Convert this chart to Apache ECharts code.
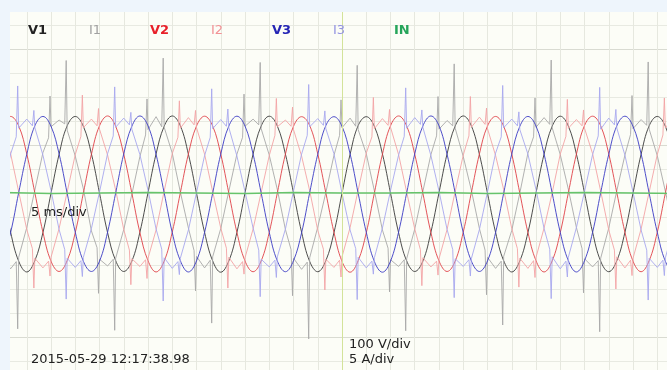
<!DOCTYPE html>
<html><head><meta charset="utf-8">
<script src="https://cdn.jsdelivr.net/npm/echarts@6/dist/echarts.min.js"></script>
<style>html,body{margin:0;padding:0;background:#eef5fc;overflow:hidden;width:667px;height:370px;position:relative}
#c{position:absolute;left:-20px;top:-20px;width:707px;height:410px}</style>
</head><body><div id="c"></div>
<script>
// Time axis in samples; 1 sample = 1/12 cycle = 1.667 ms, 3 samples = 5 ms = one division.
const FIRST_SAMPLE = -42;
const seriesNames = ['V1', 'I1', 'V2', 'I2', 'V3', 'I3', 'IN'];
const scaleLabels = { time: '5 ms/div', volt: '100 V/div', amp: '5 A/div', stamp: '2015-05-29 12:17:38.98' };

// Voltages (V), one value per sample starting at FIRST_SAMPLE
const V1 = [
 1, -163, -284, -329, -282, -165, -1, 161, 280, 319, 278, 163,
 0, -165, -282, -327, -284, -163, 1, 163, 278, 321, 280, 161,
 -1, -164, -283, -330, -283, -164, 0, 162, 279, 320, 279, 162,
 1, -163, -285, -328, -282, -166, -1, 161, 281, 318, 278, 163,
 0, -165, -283, -327, -284, -163, 1, 163, 279, 321, 280, 161,
 -1, -164, -282, -329, -283, -165, 0, 162, 278, 320, 279, 162,
 1, -163, -284, -328, -282, -164, -1, 161, 280, 319, 278, 163,
 0];
const V2 = [
 278, 319, 280, 163, 1, -163, -284, -327, -282, -165, -1, 161,
 280, 321, 278, 161, 0, -165, -282, -329, -284, -163, 1, 163,
 279, 320, 279, 162, -1, -164, -283, -328, -283, -164, 0, 162,
 278, 318, 281, 163, 1, -163, -285, -330, -282, -166, -1, 161,
 280, 321, 279, 161, 0, -165, -283, -327, -284, -163, 1, 163,
 279, 319, 278, 162, -1, -164, -282, -329, -283, -165, 0, 162,
 281, 320, 280, 163, 1, -163, -284, -328, -282, -164, -1, 161,
 279];
const V3 = [
 -282, -165, 1, 161, 280, 319, 278, 163, -1, -163, -284, -327,
 -284, -163, 0, 163, 278, 321, 280, 161, 1, -165, -282, -329,
 -283, -164, -1, 162, 279, 320, 279, 162, 0, -164, -283, -328,
 -282, -166, 1, 161, 281, 318, 278, 163, -1, -163, -285, -330,
 -284, -163, 0, 163, 279, 321, 280, 161, 1, -165, -283, -327,
 -283, -165, -1, 162, 278, 319, 279, 162, 0, -164, -282, -329,
 -282, -164, 1, 161, 280, 320, 278, 163, -1, -163, -284, -328,
 -283];

// Currents (A) as [sample, amps]
const I1 = [
 [-42,-13.2],
 [-41,-15.8],[-40.3,-14.3],[-40.12,-28.3],[-40,-13.4],[-39,-7.2],[-38,0.6],[-37,8.4],[-36.3,11.5],[-36.12,20.2],[-36,13.8],[-35,15.2],[-34.3,14.4],[-34.12,27.6],[-34,13.1],[-33,7.7],[-32,0.9],[-31,-7.9],[-30.3,-11.4],[-30.12,-20.9],[-30,-13.8],
 [-29,-15.2],[-28.3,-13.8],[-28.12,-28.6],[-28,-13.6],[-27,-7.6],[-26,-0.3],[-25,7.6],[-24.3,12.1],[-24.12,19.6],[-24,13.2],[-23,15.9],[-22.3,13.8],[-22.12,28.1],[-22,13.7],[-21,8.3],[-20,0.2],[-19,-7.3],[-18.3,-12.0],[-18.12,-20.4],[-18,-13.2],
 [-17,-15.6],[-16.3,-14.0],[-16.12,-27.1],[-16,-13.3],[-15,-7.4],[-14,0.4],[-13,8.1],[-12.3,11.6],[-12.12,20.6],[-12,13.9],[-11,15.4],[-10.3,14.2],[-10.12,27.2],[-10,13.4],[-9,7.9],[-8,0.7],[-7,-7.6],[-6.3,-11.8],[-6.12,-21.4],[-6,-13.6],
 [-5,-15.9],[-4.3,-14.4],[-4.12,-30.4],[-4,-13.5],[-3,-7.1],[-2,0.1],[-1,7.8],[-0.3,12.0],[-0.12,19.4],[0,13.6],[1,15.6],[1.7,13.9],[1.88,26.6],[2,13.2],[3,8.2],[4,0.5],[5,-7.7],[5.7,-11.5],[5.88,-20.6],[6,-13.9],
 [7,-15.3],[7.7,-13.9],[7.88,-28.7],[8,-13.7],[9,-7.5],[10,0.3],[11,8.0],[11.7,11.9],[11.88,20.1],[12,13.3],[13,15.1],[13.7,14.0],[13.88,26.9],[14,13.5],[15,7.6],[16,0.6],[17,-7.4],[17.7,-11.9],[17.88,-21.2],[18,-13.4],
 [19,-15.7],[19.7,-14.2],[19.88,-27.5],[20,-13.2],[21,-7.8],[22,0.0],[23,8.3],[23.7,11.7],[23.88,19.8],[24,13.7],[25,15.7],[25.7,14.3],[25.88,27.7],[26,13.6],[27,8.0],[28,0.8],[29,-7.2],[29.7,-11.6],[29.88,-20.8],[30,-13.7],
 [31,-15.4],[31.7,-14.1],[31.88,-28.9],[32,-13.6],[33,-7.3],[34,0.5],[35,7.9],[35.7,12.2],[35.88,20.3],[36,13.4],[37,15.3],[37.7,14.1],[37.88,27.3],[38,13.3],[39,7.8],[40,0.4],[41,-7.5],[41.7,-11.8],[41.88,-21.0],[42,-13.5]
];
const I2 = [
 [-42,13.4],[-41,8.2],[-40,0.3],[-39,-7.6],[-38.3,-11.6],[-38.12,-19.8],[-38,-13.6],
 [-37,-15.6],[-36.3,-14.2],[-36.12,-17.3],[-36,-13.4],[-35,-7.4],[-34,0.2],[-33,8.0],[-32.3,11.8],[-32.12,20.4],[-32,13.6],[-31,15.4],[-30.3,14.0],[-30.12,17.6],[-30,13.3],[-29,7.9],[-28,0.6],[-27,-7.6],[-26.3,-11.9],[-26.12,-19.1],[-26,-13.7],
 [-25,-15.3],[-24.3,-13.9],[-24.12,-17.8],[-24,-13.6],[-23,-7.7],[-22,0.4],[-21,8.2],[-20.3,11.6],[-20.12,19.2],[-20,13.5],[-19,15.7],[-18.3,14.2],[-18.12,17.2],[-18,13.6],[-17,8.1],[-16,0.3],[-15,-7.3],[-14.3,-11.5],[-14.12,-19.8],[-14,-13.4],
 [-13,-15.8],[-12.3,-14.3],[-12.12,-16.9],[-12,-13.5],[-11,-7.5],[-10,0.1],[-9,7.8],[-8.3,12.0],[-8.12,19.7],[-8,13.8],[-7,15.2],[-6.3,13.9],[-6.12,17.9],[-6,13.2],[-5,7.7],[-4,0.5],[-3,-7.8],[-2.3,-11.7],[-2.12,-20.2],[-2,-13.8],
 [-1,-15.5],[-0.3,-14.0],[-0.12,-17.5],[0,-13.3],[1,-7.2],[2,0.6],[3,8.3],[3.7,11.7],[3.88,19.9],[4,13.4],[5,15.5],[5.7,14.1],[5.88,17.4],[6,13.7],[7,8.0],[8,0.2],[9,-7.5],[9.7,-11.8],[9.88,-19.3],[10,-13.5],
 [11,-15.4],[11.7,-14.2],[11.88,-17.1],[12,-13.7],[13,-7.6],[14,0.3],[15,7.9],[15.7,11.9],[15.88,20.1],[16,13.7],[17,15.8],[17.7,14.3],[17.88,17.7],[18,13.4],[19,7.8],[20,0.7],[21,-7.4],[21.7,-11.6],[21.88,-19.6],[22,-13.6],
 [23,-15.7],[23.7,-14.1],[23.88,-17.6],[24,-13.4],[25,-7.3],[26,0.0],[27,8.1],[27.7,11.8],[27.88,19.5],[28,13.5],[29,15.3],[29.7,14.0],[29.88,17.3],[30,13.5],[31,8.2],[32,0.4],[33,-7.7],[33.7,-11.9],[33.88,-20.0],[34,-13.3],
 [35,-15.6],[35.7,-14.0],[35.88,-17.2],[36,-13.6],[37,-7.5],[38,0.2],[39,8.0],[39.7,12.1],[39.88,19.8],[40,13.6],[41,15.6],[41.7,14.2],[41.88,17.5],[42,13.4]
];
const I3 = [
 [-42,0.3],[-41,8.1],[-40.3,11.7],[-40.12,22.3],[-40,13.5],[-39,15.4],[-38.3,14.0],[-38.12,17.2],[-38,13.6],[-37,7.9],[-36,0.5],[-35,-7.6],[-34.3,-11.8],[-34.12,-22.1],[-34,-13.6],
 [-33,-15.5],[-32.3,-14.1],[-32.12,-17.4],[-32,-13.4],[-31,-7.4],[-30,0.2],[-29,8.2],[-28.3,11.9],[-28.12,22.1],[-28,13.7],[-27,15.6],[-26.3,14.2],[-26.12,16.8],[-26,13.3],[-25,8.0],[-24,0.6],[-23,-7.5],[-22.3,-11.7],[-22.12,-22.5],[-22,-13.5],
 [-21,-15.7],[-20.3,-14.3],[-20.12,-17.0],[-20,-13.6],[-19,-7.7],[-18,0.1],[-17,7.8],[-16.3,11.6],[-16.12,21.7],[-16,13.4],[-15,15.3],[-14.3,13.9],[-14.12,17.5],[-14,13.6],[-13,7.7],[-12,0.3],[-11,-7.3],[-10.3,-11.9],[-10.12,-21.6],[-10,-13.8],
 [-9,-15.4],[-8.3,-14.0],[-8.12,-17.6],[-8,-13.3],[-7,-7.5],[-6,0.4],[-5,8.1],[-4.3,12.0],[-4.12,22.6],[-4,13.8],[-3,15.5],[-2.3,14.1],[-2.12,17.1],[-2,13.4],[-1,8.2],[0,0.0],[1,-7.7],[1.7,-11.6],[1.88,-22.2],[2,-13.4],
 [3,-15.6],[3.7,-14.2],[3.88,-16.9],[4,-13.5],[5,-7.3],[6,0.5],[7,7.9],[7.7,11.8],[7.88,21.9],[8,13.5],[9,15.7],[9.7,14.3],[9.88,17.3],[10,13.7],[11,7.8],[12,0.4],[13,-7.6],[13.7,-11.8],[13.88,-21.8],[14,-13.7],
 [15,-15.3],[15.7,-13.9],[15.88,-17.3],[16,-13.7],[17,-7.6],[18,0.2],[19,8.3],[19.7,11.7],[19.88,22.4],[20,13.6],[21,15.4],[21.7,14.0],[21.88,16.9],[22,13.2],[23,8.1],[24,0.7],[25,-7.4],[25.7,-11.7],[25.88,-22.0],[26,-13.3],
 [27,-15.8],[27.7,-14.2],[27.88,-17.5],[28,-13.4],[29,-7.2],[30,0.3],[31,8.0],[31.7,11.9],[31.88,22.0],[32,13.3],[33,15.6],[33.7,14.2],[33.88,17.4],[34,13.5],[35,7.9],[36,0.2],[37,-7.7],[37.7,-11.9],[37.88,-22.3],[38,-13.6],
 [39,-15.5],[39.7,-14.0],[39.88,-17.2],[40,-13.5],[41,-7.5],[42,0.4]
];
const IN = [[-42,0.1],[-36,-0.1],[-30,0.0],[-24,0.1],[-18,0.0],[-12,-0.1],[-6,0.1],[0,0.0],[6,0.0],[12,0.1],[18,-0.1],[24,0.0],[30,0.1],[36,0.0],[42,-0.1]];

const toPairs = arr => arr.map((v, k) => [FIRST_SAMPLE + k, v]);

const colors = { V1: '#3a3a3a', I1: '#a8a8a8', V2: '#e04148', I2: '#f3a3a5', V3: '#3b3bc4', I3: '#a7a7ee', IN: '#66c46b' };
const labelColors = { V1: '#222222', I1: '#a0a0a0', V2: '#e8202a', I2: '#f29296', V3: '#2525b5', I3: '#9494e2', IN: '#25a55a' };

// chart canvas is offset by OFF px so the plot grid can run past the visible edges
const OFF = 20;
const chart = echarts.init(document.getElementById('c'), null, { renderer: 'canvas' });

function line(name, data, yIdx, extra) {
  return Object.assign({
    name, type: 'line', data, yAxisIndex: yIdx, symbol: 'none', clip: true,
    lineStyle: { color: colors[name], width: 1, opacity: 0.9 }, itemStyle: { color: colors[name] },
    animation: false, silent: true
  }, extra || {});
}

const legendGraphics = seriesNames.map((n, k) => ({
  type: 'text', z: 110, left: OFF + 28 + 61 * k, top: OFF + 24,
  style: { text: n, fill: labelColors[n], font: (n[0] === 'V' || n === 'IN' ? 'bold ' : '') + '13px "DejaVu Sans"' }
}));

chart.setOption({
  backgroundColor: '#eef5fc',
  animation: false,
  grid: { left: OFF + 2.5, width: 679, top: OFF + 1, height: 384, show: true, backgroundColor: '#fcfdf7', borderWidth: 0 },
  xAxis: {
    type: 'value', min: -42, max: 42, interval: 3,
    axisLine: { show: false }, axisTick: { show: false }, axisLabel: { show: false },
    splitLine: { show: true, lineStyle: { color: '#e6e8df', width: 1 } }
  },
  yAxis: [
    { type: 'value', min: -800, max: 800, interval: 100,
      axisLine: { show: false }, axisTick: { show: false }, axisLabel: { show: false },
      splitLine: { show: true, lineStyle: { color: ['#e8eae2', '#e8eae2', '#d9dbd2', '#e8eae2'], width: 1 } } },
    { type: 'value', min: -40, max: 40, show: false, splitLine: { show: false } }
  ],
  series: [
    line('V1', toPairs(V1), 0, { smooth: 0.4,
      markLine: { silent: true, symbol: 'none', label: { show: false },
        lineStyle: { color: '#d3e39a', width: 1, type: 'solid', opacity: 1 }, data: [{ xAxis: 0 }] } }),
    line('I1', I1, 1),
    line('V2', toPairs(V2), 0, { smooth: 0.4 }),
    line('I2', I2, 1),
    line('V3', toPairs(V3), 0, { smooth: 0.4 }),
    line('I3', I3, 1),
    line('IN', IN, 1, { lineStyle: { color: colors.IN, width: 1.7 } })
  ],
  graphic: [
    { type: 'rect', z: 100, shape: { x: 0, y: 0, width: 707, height: OFF + 12 }, style: { fill: '#eef5fc' } },
    { type: 'rect', z: 100, shape: { x: 0, y: 0, width: OFF + 10, height: 410 }, style: { fill: '#eef5fc' } },
    ...legendGraphics,
    { type: 'text', z: 110, left: OFF + 31, top: OFF + 206, style: { text: scaleLabels.time, fill: '#222', font: '13px "DejaVu Sans"' } },
    { type: 'text', z: 110, left: OFF + 31, top: OFF + 353, style: { text: scaleLabels.stamp, fill: '#222', font: '13px "DejaVu Sans"' } },
    { type: 'text', z: 110, left: OFF + 349, top: OFF + 338, style: { text: scaleLabels.volt, fill: '#222', font: '13px "DejaVu Sans"' } },
    { type: 'text', z: 110, left: OFF + 349, top: OFF + 353, style: { text: scaleLabels.amp, fill: '#222', font: '13px "DejaVu Sans"' } }
  ]
});
</script></body></html>
